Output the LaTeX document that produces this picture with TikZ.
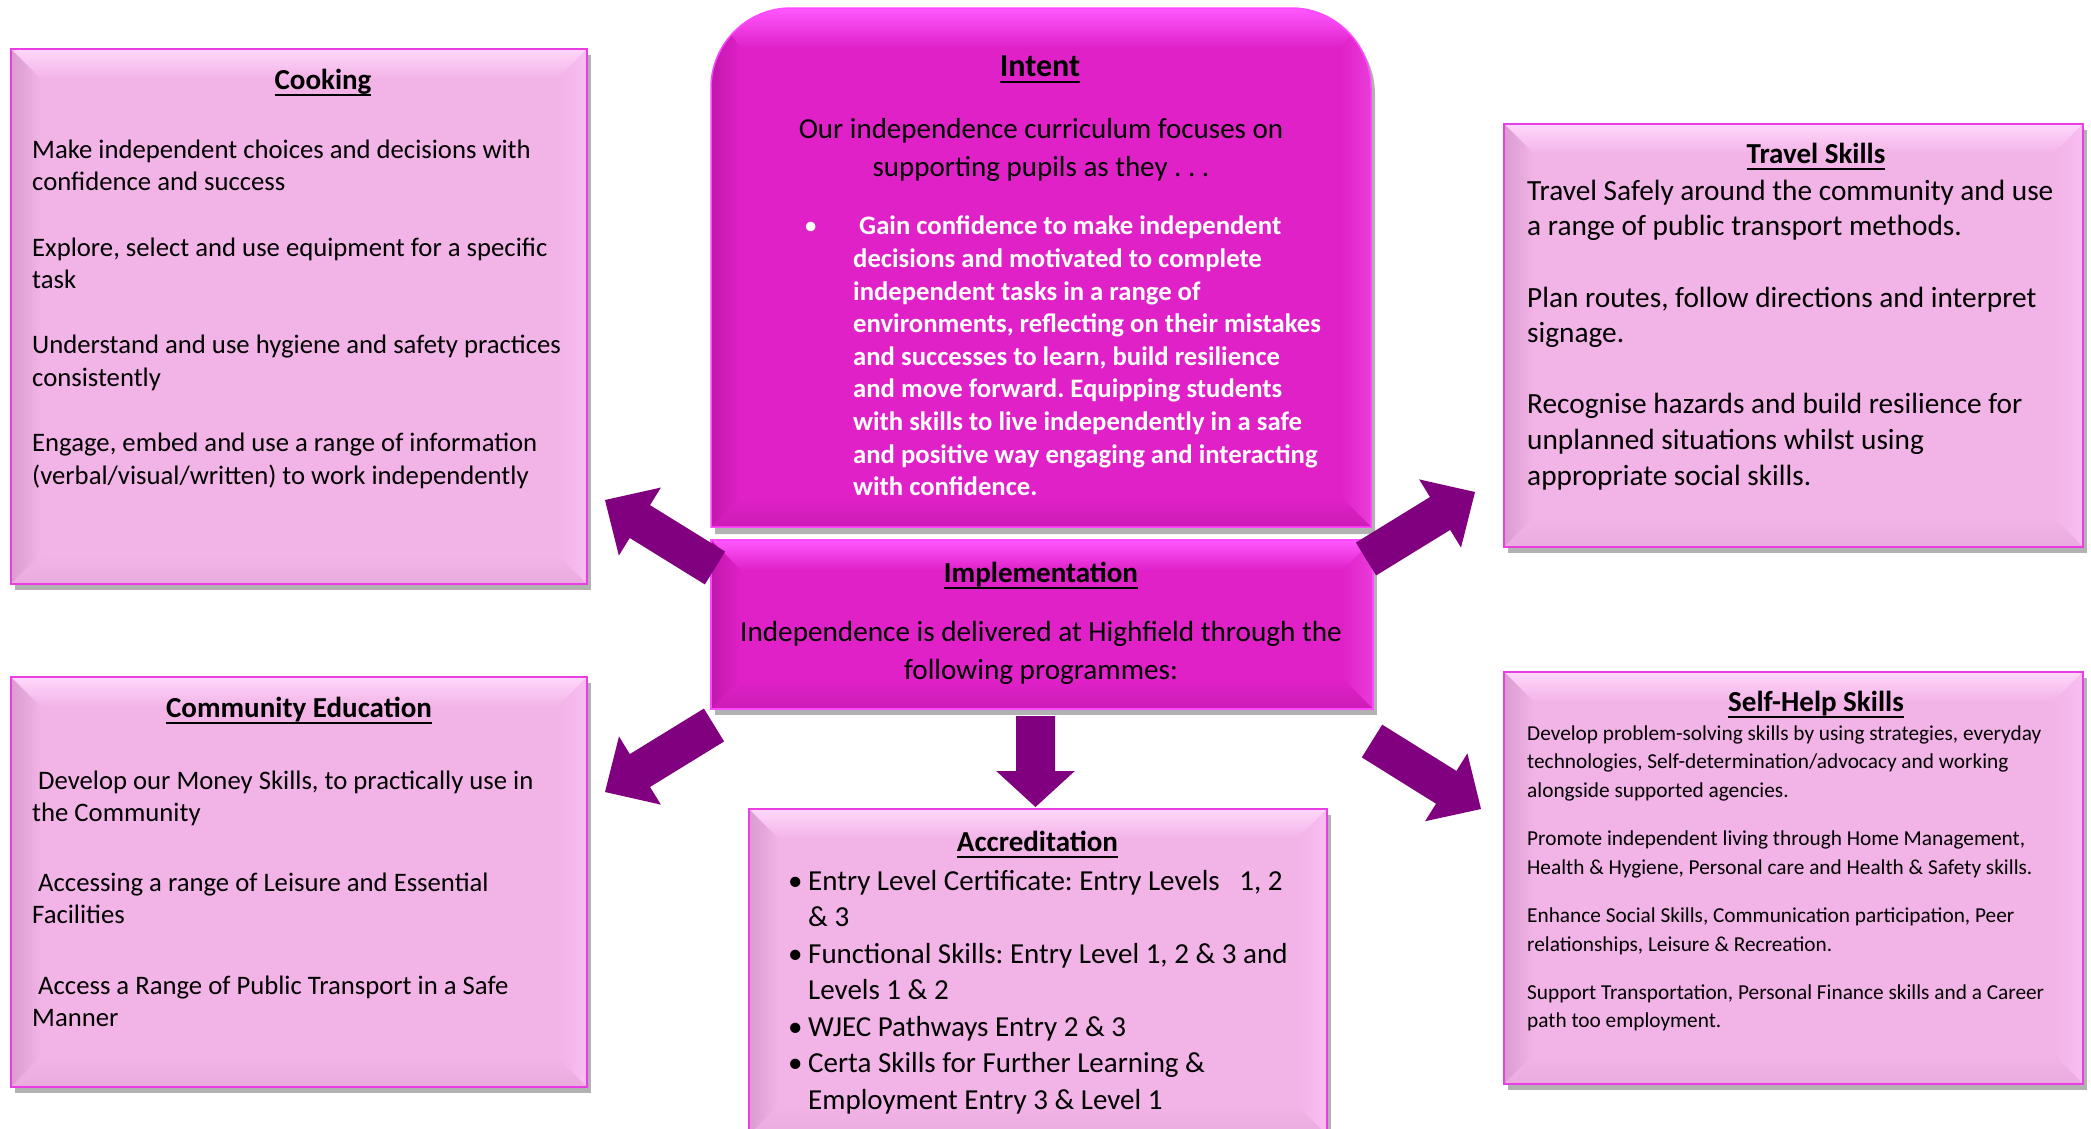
\documentclass[tikz,border=0pt]{standalone}
\usepackage{fontspec}
\setmainfont{Carlito}
\usetikzlibrary{calc,shadows}
\frenchspacing

\definecolor{lightfill}{HTML}{F2B3E6}
\definecolor{lighttop}{HTML}{FFD8FC}
\definecolor{lightleft}{HTML}{DA9CD0}
\definecolor{lightright}{HTML}{FABEF2}
\definecolor{lightbot}{HTML}{EAACDE}
\definecolor{lightborder}{HTML}{E83EE2}
\definecolor{darkfill}{HTML}{E021C8}
\definecolor{darktop}{HTML}{FF58FF}
\definecolor{darkleft}{HTML}{C018AC}
\definecolor{darkright}{HTML}{EA3CDA}
\definecolor{darkbot}{HTML}{CC1CB6}
\definecolor{darkborder}{HTML}{FF48FF}
\definecolor{arrowcol}{HTML}{800080}

\newcommand{\bevelpic}[5]{%
  \coordinate (bvNW) at (path picture bounding box.north west);
  \coordinate (bvNE) at (path picture bounding box.north east);
  \coordinate (bvSW) at (path picture bounding box.south west);
  \coordinate (bvSE) at (path picture bounding box.south east);
  \shade[top color=#2, bottom color=#1] (bvNW) -- (bvNE) -- ([xshift=-30pt,yshift=-30pt]bvNE) -- ([xshift=30pt,yshift=-30pt]bvNW) -- cycle;
  \shade[left color=#3, right color=#1] (bvNW) -- ([xshift=30pt,yshift=-30pt]bvNW) -- ([xshift=30pt,yshift=30pt]bvSW) -- (bvSW) -- cycle;
  \shade[left color=#1, right color=#4] (bvNE) -- ([xshift=-30pt,yshift=-30pt]bvNE) -- ([xshift=-30pt,yshift=30pt]bvSE) -- (bvSE) -- cycle;
  \shade[top color=#1, bottom color=#5] (bvSW) -- ([xshift=30pt,yshift=30pt]bvSW) -- ([xshift=-30pt,yshift=30pt]bvSE) -- (bvSE) -- cycle;
}

\newcommand{\blkarrow}[5]{%
  \coordinate (bah) at ($(#2)!#5!(#1)$);
  \fill[arrowcol] ($(#1)!#3!90:(#2)$) -- ($(bah)!#3!90:(#2)$) -- ($(bah)!#4!90:(#2)$) -- (#2) -- ($(bah)!#4!-90:(#2)$) -- ($(bah)!#3!-90:(#2)$) -- ($(#1)!#3!-90:(#2)$) -- cycle;}

\newcommand{\ulx}[1]{\setbox0\hbox{#1}\rlap{\rule[-6.5pt]{\wd0}{2pt}}\box0}

\tikzset{
  lightbox/.style={draw=lightborder, line width=2pt, fill=lightfill, inner sep=0pt,
    path picture={\bevelpic{lightfill}{lighttop}{lightleft}{lightright}{lightbot}},
    drop shadow={shadow xshift=4pt, shadow yshift=-6pt, opacity=0.3, fill=black}},
  darkbox/.style={draw=darkborder, line width=2pt, fill=darkfill, inner sep=0pt,
    path picture={\bevelpic{darkfill}{darktop}{darkleft}{darkright}{darkbot}},
    drop shadow={shadow xshift=4pt, shadow yshift=-6pt, opacity=0.3, fill=black}},
  ttl/.style={anchor=base, inner sep=0pt, font=\fontsize{29}{35}\selectfont\bfseries},
  bodytxt/.style={anchor=north west, inner sep=0pt, align=left},
  ctrtxt/.style={anchor=north, inner sep=0pt, align=center},
}

\begin{document}
\begin{tikzpicture}[x=1pt,y=-1pt]
\useasboundingbox (0,0) rectangle (2091,1128);
\fill[white] (0,0) rectangle (2091,1128);

% light boxes
\node[lightbox, minimum width=576pt, minimum height=535pt] (cook) at (299,316.5) {};
\node[lightbox, minimum width=576pt, minimum height=410pt] (comm) at (299,882) {};
\node[lightbox, minimum width=579pt, minimum height=423pt] (travel) at (1793.5,335.5) {};
\node[lightbox, minimum width=579pt, minimum height=412pt] (selfhelp) at (1793.5,878) {};
\node[lightbox, minimum width=578pt, minimum height=326pt] (accred) at (1038,972) {};

% intent box (rounded top)
\fill[black, opacity=0.3] (715,534) -- (715,300) [rounded corners=80pt] -- (715,14) -- (1375,14) -- (1375,300) [sharp corners] -- (1375,534) -- cycle;
\fill[darkfill] (711,527) -- (711,300) [rounded corners=80pt] -- (711,8) -- (1371,8) -- (1371,300) [sharp corners] -- (1371,527) -- cycle;
\begin{scope}
  \clip (711,527) -- (711,300) [rounded corners=80pt] -- (711,8) -- (1371,8) -- (1371,300) [sharp corners] -- (1371,527) -- cycle;
  \shade[top color=darktop, bottom color=darkfill] (711,8) -- (1371,8) -- (1341,48) -- (741,48) -- cycle;
  \shade[left color=darkleft, right color=darkfill] (711,8) -- (741,48) -- (741,497) -- (711,527) -- cycle;
  \shade[left color=darkfill, right color=darkright] (1371,8) -- (1341,48) -- (1341,497) -- (1371,527) -- cycle;
  \shade[top color=darkfill, bottom color=darkbot] (711,527) -- (741,497) -- (1341,497) -- (1371,527) -- cycle;
\end{scope}
\draw[darkborder, line width=1.5pt] (711,527) -- (711,300) [rounded corners=80pt] -- (711,8) -- (1371,8) -- (1371,300) [sharp corners] -- (1371,527) -- cycle;
\node[inner sep=0pt, minimum width=660pt, minimum height=519pt] (intent) at (1041,267.5) {};

% implementation box
\node[darkbox, minimum width=662pt, minimum height=169pt] (impl) at (1042,624.5) {};

% arrows
\coordinate (a1s) at (715,568); \coordinate (a1t) at (605,500);
\coordinate (a2s) at (1366,559); \coordinate (a2t) at (1475,492);
\coordinate (a3s) at (714,725); \coordinate (a3t) at (605,792);
\coordinate (a4s) at (1372,741); \coordinate (a4t) at (1481,809);
\coordinate (a5s) at (1035.5,716); \coordinate (a5t) at (1035.5,807);
\blkarrow{a1s}{a1t}{19.3pt}{40pt}{41pt}
\blkarrow{a2s}{a2t}{19.3pt}{40pt}{41pt}
\blkarrow{a3s}{a3t}{19.3pt}{40pt}{41pt}
\blkarrow{a4s}{a4t}{19.3pt}{40pt}{41pt}
\blkarrow{a5s}{a5t}{19.5pt}{39.3pt}{36pt}

% Cooking
\node[ttl] (cookT) at (323,89) {\ulx{Cooking}};
\node[bodytxt, font=\fontsize{26.7}{32.6}\selectfont] (cookB) at (32,135.2) {\strut Make independent choices and decisions with\\ confidence and success\\[32.6pt] Explore, select and use equipment for a specific\\ task\\[32.6pt] Understand and use hygiene and safety practices\\ consistently\\[32.6pt] Engage, embed and use a range of information\\ (verbal/visual/written) to work independently};

% Community Education
\node[ttl] (commT) at (299,717) {\ulx{Community Education}};
\node[bodytxt, font=\fontsize{26.7}{32}\selectfont] (commB) at (32,766.6) {\strut\ Develop our Money Skills, to practically use in\\ the Community\\[38.7pt]\ Accessing a range of Leisure and Essential\\ Facilities\\[38.7pt]\ Access a Range of Public Transport in a Safe\\ Manner};

% Travel Skills
\node[ttl] (travT) at (1816,163.4) {\ulx{Travel Skills}};
\node[bodytxt, font=\fontsize{29.3}{35.6}\selectfont] (travB) at (1527,175.1) {\strut Travel Safely around the community and use\\ a range of public transport methods.\\[35.6pt] Plan routes, follow directions and interpret\\ signage.\\[35.6pt] Recognise hazards and build resilience for\\ unplanned situations whilst using\\ appropriate social skills.};

% Self-Help Skills
\node[ttl] (selfT) at (1816,711.5) {\ulx{Self-Help Skills}};
\node[bodytxt, font=\fontsize{21.3}{28.7}\selectfont] (selfB) at (1527,719.9) {\strut Develop problem-solving skills by using strategies, everyday\\ technologies, Self-determination/advocacy and working\\ alongside supported agencies.\\[19.3pt] Promote independent living through Home Management,\\ Health \& Hygiene, Personal care and Health \& Safety skills.\\[19.3pt] Enhance Social Skills, Communication participation, Peer\\ relationships, Leisure \& Recreation.\\[19.3pt] Support Transportation, Personal Finance skills and a Career\\ path too employment.};

% Accreditation
\node[ttl] (accT) at (1037.5,851.5) {\ulx{Accreditation}};
\node[bodytxt, font=\fontsize{29}{36.5}\selectfont] (accB) at (788,864.4) {\strut\makebox[20pt][l]{•}Entry Level Certificate: Entry Levels~~~1, 2\\ \hspace*{20pt}\& 3\\ \makebox[20pt][l]{•}Functional Skills: Entry Level 1, 2 \& 3 and\\ \hspace*{20pt}Levels 1 \& 2\\ \makebox[20pt][l]{•}WJEC Pathways Entry 2 \& 3\\ \makebox[20pt][l]{•}Certa Skills for Further Learning \&\\ \hspace*{20pt}Employment Entry 3 \& Level 1};

% Intent text
\node[ttl, font=\fontsize{32}{38}\selectfont\bfseries] (intT) at (1040,76) {\ulx{Intent}};
\node[ctrtxt, font=\fontsize{29}{38.7}\selectfont] (intA) at (1041,110.9) {\strut Our independence curriculum focuses on\\ supporting pupils as they . . .};
\node[bodytxt, text=white, font=\fontsize{26.7}{32.6}\selectfont\bfseries] (intB) at (853,211.9) {\strut\llap{\makebox[49pt][l]{\mdseries•}}\ Gain confidence to make independent\\ decisions and motivated to complete\\ independent tasks in a range of\\ environments, reflecting on their mistakes\\ and successes to learn, build resilience\\ and move forward. Equipping students\\ with skills to live independently in a safe\\ and positive way engaging and interacting\\ with confidence.};

% Implementation text
\node[ttl] (impT) at (1041,582) {\ulx{Implementation}};
\node[ctrtxt, font=\fontsize{29.2}{38.7}\selectfont] (impB) at (1041,613.7) {\strut Independence is delivered at Highfield through the\\ following programmes:};
\end{tikzpicture}
\end{document}
